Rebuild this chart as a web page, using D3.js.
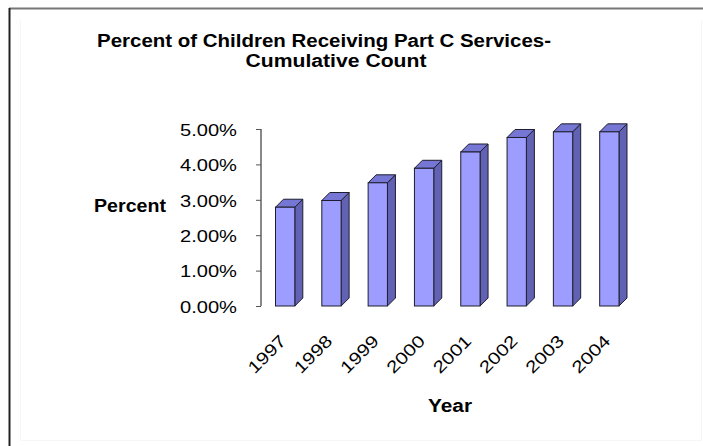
<!DOCTYPE html>
<html>
<head>
<meta charset="utf-8">
<script src="https://cdn.jsdelivr.net/npm/d3@7/dist/d3.min.js"></script>
<style>
  html, body { margin: 0; padding: 0; background: #fff; }
  svg { display: block; font-family: Arial, "Liberation Sans", Helvetica, sans-serif; }
</style>
</head>
<body>
<svg id="chart" width="703" height="446"></svg>
<script>
// Data: share of children receiving Part C services, cumulative count
const years = ["1997", "1998", "1999", "2000", "2001", "2002", "2003", "2004"];
const percents = [2.79, 2.98, 3.48, 3.89, 4.35, 4.76, 4.92, 4.92];
const yTicks = [0, 1, 2, 3, 4, 5];

const titleLines = ["Percent of Children Receiving Part C Services-", "Cumulative Count"];
const yTitle = "Percent";
const xTitle = "Year";

const svg = d3.select("#chart");

// Frame around the chart area
svg.append("line").attr("x1", 9).attr("x2", 703).attr("y1", 8.5).attr("y2", 8.5)
  .attr("stroke", "#777").attr("stroke-width", 2);
svg.append("line").attr("x1", 9.5).attr("x2", 9.5).attr("y1", 8).attr("y2", 446)
  .attr("stroke", "#222").attr("stroke-width", 2);
svg.append("path").attr("d", "M20.5,20 V440.5 H701.5 V20")
  .attr("fill", "none").attr("stroke", "#f6f6f6").attr("stroke-width", 1);

// Scales
const x = d3.scaleBand().domain(years).range([262, 632.5])
  .paddingInner(0.583).paddingOuter(0.2915);
const y = d3.scaleLinear().domain([0, 5]).range([306, 129]);

// Title
const titleLen = [454, 181];
const titleX = [324, 336];
const titleY = [47, 66.7];
titleLines.forEach((t, i) => {
  svg.append("text")
    .attr("x", titleX[i]).attr("y", titleY[i])
    .attr("text-anchor", "middle")
    .attr("font-size", 18).attr("font-weight", "bold").attr("fill", "#000")
    .attr("textLength", titleLen[i]).attr("lengthAdjust", "spacingAndGlyphs")
    .text(t);
});

// Value axis
const axisX = 261;
const yAxis = d3.axisLeft(y).tickValues(yTicks).tickSize(5).tickPadding(20)
  .tickFormat(d => d3.format(".2f")(d) + "%");
const gy = svg.append("g").attr("transform", `translate(${axisX},0)`).call(yAxis);
gy.select(".domain").attr("stroke", "#888").attr("stroke-width", 2)
  .attr("d", `M0,${y(5)}V${y(0)}`);
gy.selectAll(".tick line").attr("stroke", "#555").attr("stroke-width", 1);
gy.selectAll(".tick text")
  .attr("font-size", 16.5).attr("fill", "#000")
  .attr("font-family", "Arial, 'Liberation Sans', sans-serif")
  .attr("x", -24).attr("dy", "0.38em")
  .attr("textLength", 57).attr("lengthAdjust", "spacingAndGlyphs");

svg.append("text")
  .attr("x", 130).attr("y", 211.5).attr("text-anchor", "middle")
  .attr("font-size", 18).attr("font-weight", "bold")
  .attr("textLength", 72).attr("lengthAdjust", "spacingAndGlyphs")
  .text(yTitle);

// 3D columns: front face, right side, top
const depth = 8;
const bars = svg.append("g").selectAll("g").data(years.map((yr, i) => ({ yr, v: percents[i] })))
  .join("g");

bars.append("path")
  .attr("d", d => {
    const x1 = x(d.yr) + x.bandwidth(), y0 = y(0), yv = y(d.v);
    return `M${x1},${y0}L${x1 + depth},${y0 - depth}L${x1 + depth},${yv - depth}L${x1},${yv}Z`;
  })
  .attr("fill", "#6262b4").attr("stroke", "#1e1e2e").attr("stroke-width", 1).attr("stroke-linejoin", "round");

bars.append("path")
  .attr("d", d => {
    const x0 = x(d.yr), x1 = x0 + x.bandwidth(), yv = y(d.v);
    return `M${x0},${yv}L${x0 + depth},${yv - depth}L${x1 + depth},${yv - depth}L${x1},${yv}Z`;
  })
  .attr("fill", "#7676d4").attr("stroke", "#1e1e2e").attr("stroke-width", 1).attr("stroke-linejoin", "round");

bars.append("rect")
  .attr("x", d => x(d.yr)).attr("y", d => y(d.v))
  .attr("width", x.bandwidth()).attr("height", d => y(0) - y(d.v))
  .attr("fill", "#9d9dff").attr("stroke", "#1e1e2e").attr("stroke-width", 1);

// Category labels, rotated
svg.append("g").selectAll("text").data(years).join("text")
  .attr("transform", d => `translate(${x(d) + x.bandwidth() / 2 + 2},${342}) rotate(-45)`)
  .attr("text-anchor", "end")
  .attr("font-size", 17).attr("fill", "#000")
  .attr("textLength", 46).attr("lengthAdjust", "spacingAndGlyphs")
  .text(d => d);

svg.append("text")
  .attr("x", 450).attr("y", 411.5).attr("text-anchor", "middle")
  .attr("font-size", 18).attr("font-weight", "bold")
  .attr("textLength", 44).attr("lengthAdjust", "spacingAndGlyphs")
  .text(xTitle);
</script>
</body>
</html>
